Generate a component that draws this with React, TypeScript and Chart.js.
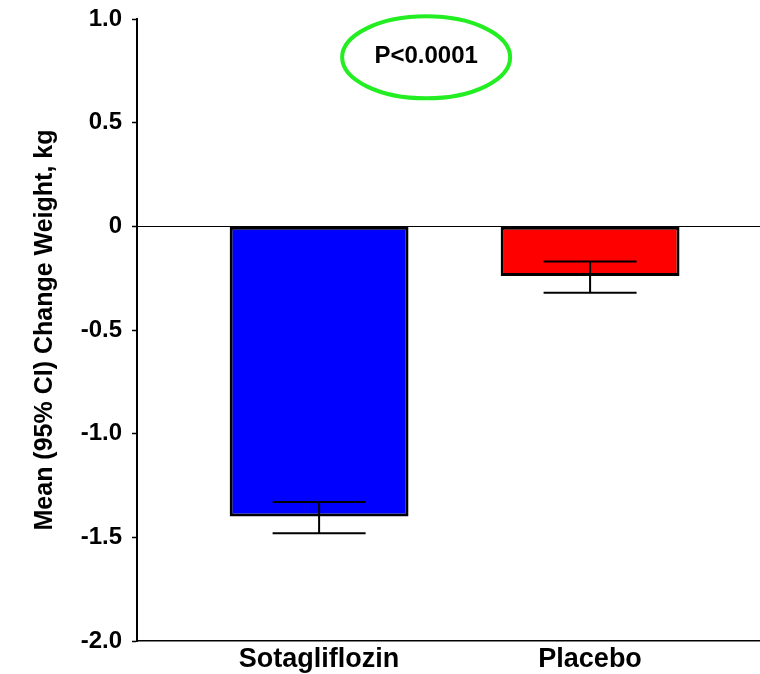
import { useEffect, useRef } from 'react';
import { Chart, registerables } from 'chart.js';

Chart.register(...registerables);

const categories = ['Sotagliflozin', 'Placebo'];
const meanChange = [-1.40, -0.24];
const ciLower = [-1.48, -0.32];
const ciUpper = [-1.33, -0.17];
const barColors = ['#0000ff', '#ff0000'];
const yTicks = [1.0, 0.5, 0, -0.5, -1.0, -1.5, -2.0];
const yTickLabels = ['1.0', '0.5', '0', '-0.5', '-1.0', '-1.5', '-2.0'];
const yTitle = 'Mean (95% CI) Change Weight, kg';
const pValueText = 'P<0.0001';

const FONT = '"Liberation Sans", Arial, Helvetica, sans-serif';

const errorBarPlugin = {
  id: 'errorBars',
  afterDatasetsDraw(chart: any) {
    const meta = chart.getDatasetMeta(0);
    const yScale = chart.scales.y;
    const ctx = chart.ctx;
    ctx.save();
    ctx.strokeStyle = '#000';
    ctx.lineWidth = 2;
    meta.data.forEach((el: any, i: number) => {
      const x = el.x;
      const half = el.width * 0.26;
      const yLo = yScale.getPixelForValue(ciLower[i]);
      const yHi = yScale.getPixelForValue(ciUpper[i]);
      ctx.beginPath();
      ctx.moveTo(x, yHi);
      ctx.lineTo(x, yLo);
      ctx.moveTo(x - half, yHi);
      ctx.lineTo(x + half, yHi);
      ctx.moveTo(x - half, yLo);
      ctx.lineTo(x + half, yLo);
      ctx.stroke();
    });
    ctx.restore();
  },
};

const pValuePlugin = {
  id: 'pValue',
  afterDraw(chart: any, _args: any, opts: any) {
    const ctx = chart.ctx;
    const cx = chart.scales.x.getPixelForValue(opts.x);
    const cy = chart.scales.y.getPixelForValue(opts.y);
    ctx.save();
    ctx.beginPath();
    ctx.ellipse(cx, cy, 84, 41, 0, 0, Math.PI * 2);
    ctx.strokeStyle = '#22ee22';
    ctx.lineWidth = 4;
    ctx.stroke();
    ctx.fillStyle = '#000';
    ctx.font = `bold 24px ${FONT}`;
    ctx.textAlign = 'center';
    ctx.textBaseline = 'middle';
    ctx.fillText(pValueText, cx, cy - 1);
    ctx.restore();
  },
};

export default function App() {
  const ref = useRef<HTMLCanvasElement>(null);

  useEffect(() => {
    if (!ref.current) return;
    const chart = new Chart(ref.current, {
      type: 'bar',
      data: {
        datasets: [
          {
            data: categories.map((_, i) => ({ x: i + 1, y: meanChange[i] })) as any,
            backgroundColor: barColors,
            borderColor: '#000',
            borderWidth: 3,
            borderSkipped: false,
            categoryPercentage: 1,
            barPercentage: 0.66,
          },
        ],
      },
      options: {
        responsive: false,
        animation: false,
        devicePixelRatio: 1,
        layout: { padding: { top: 19, left: 0, right: 0, bottom: 0 } },
        plugins: {
          legend: { display: false },
          tooltip: { enabled: false },
          pValue: { x: 1.395, y: 0.815 },
        } as any,
        scales: {
          x: {
            type: 'linear',
            offset: false,
            min: 0.328,
            max: 2.627,
            afterBuildTicks: (s: any) => {
              s.ticks = categories.map((_, i) => ({ value: i + 1 }));
            },
            afterFit: (s: any) => {
              s.height = 33;
              s.paddingLeft = 0;
              s.paddingRight = 0;
            },
            ticks: {
              autoSkip: false,
              maxRotation: 0,
              padding: 2,
              color: '#000',
              font: { family: FONT, size: 27, weight: 'bold' },
              callback: (v: any) => categories[Math.round(Number(v)) - 1] ?? '',
            },
            grid: { display: true, offset: false, drawOnChartArea: false, drawTicks: false, tickLength: 0 },
            border: { display: true, color: '#000', width: 1.5 },
          },
          y: {
            type: 'linear',
            min: -2,
            max: 1,
            afterBuildTicks: (s: any) => {
              s.ticks = yTicks.map((v) => ({ value: v }));
            },
            afterFit: (s: any) => {
              s.width = 137;
              s.paddingTop = 0;
              s.paddingBottom = 0;
            },
            ticks: {
              padding: 10,
              color: '#000',
              font: { family: FONT, size: 24, weight: 'bold' },
              callback: (v: any) => {
                const idx = yTicks.findIndex((t) => Math.abs(t - Number(v)) < 1e-9);
                return idx >= 0 ? yTickLabels[idx] : '';
              },
            },
            grid: {
              color: (c: any) => (c.tick && c.tick.value === 0 ? '#000' : 'rgba(0,0,0,0)'),
              lineWidth: 1,
              tickLength: 5,
              tickColor: '#000',
              tickWidth: 1.5,
            },
            border: { display: true, color: '#000', width: 2 },
            title: {
              display: true,
              text: yTitle,
              color: '#000',
              font: { family: FONT, size: 25, weight: 'bold' },
              padding: { top: 30, bottom: 0 },
            },
          },
        },
      },
      plugins: [errorBarPlugin, pValuePlugin],
    });
    return () => chart.destroy();
  }, []);

  return (
    <div style={{ position: 'absolute', left: 0, top: 0, width: 760, height: 674, background: '#fff' }}>
      <canvas ref={ref} width={760} height={674} style={{ display: 'block' }} />
    </div>
  );
}
